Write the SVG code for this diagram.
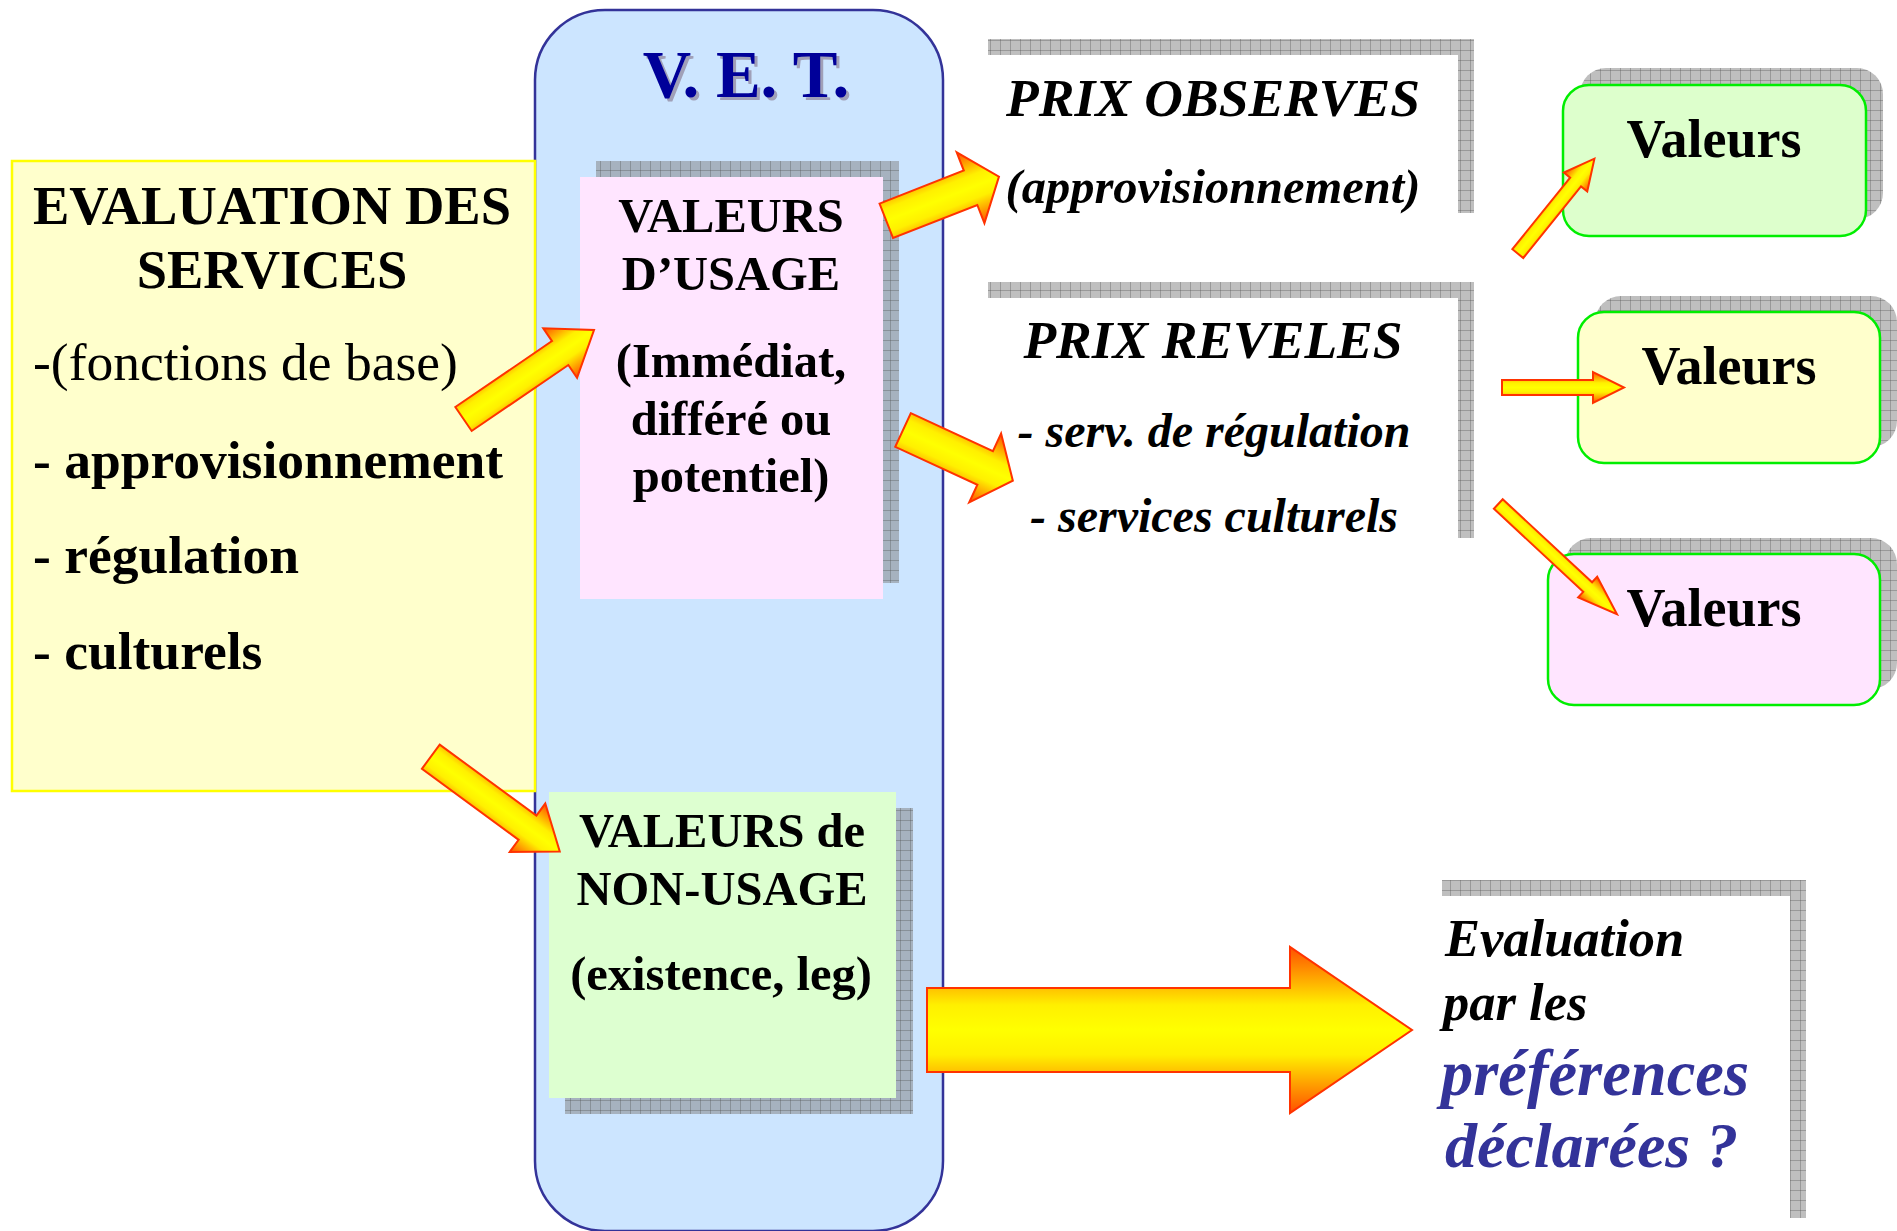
<svg xmlns="http://www.w3.org/2000/svg" width="1897" height="1231" viewBox="0 0 1897 1231">
<defs>
  <pattern id="grid" width="10" height="10" patternUnits="userSpaceOnUse">
    <rect width="10" height="10" fill="#808080" fill-opacity="0.5"/>
    <path d="M0 0.5H10M0.5 0V10" stroke="#505050" stroke-opacity="0.35" stroke-width="1" fill="none"/>
  </pattern>
  <linearGradient id="arrowGrad" x1="0" y1="0" x2="0" y2="1">
    <stop offset="0" stop-color="#FF5000"/>
    <stop offset="0.35" stop-color="#FFF000"/>
    <stop offset="0.5" stop-color="#FFFF00"/>
    <stop offset="0.65" stop-color="#FFF000"/>
    <stop offset="1" stop-color="#FF5000"/>
  </linearGradient>
  <style>
    .t{font-family:"Liberation Serif","Times New Roman",serif;fill:#000}
    .b{font-weight:bold}
    .i{font-style:italic}
    .m{text-anchor:middle}
    .shadow{fill:url(#grid)}
    .arrow{fill:url(#arrowGrad);stroke:#FF3300;stroke-width:2;stroke-linejoin:miter}
    .vbox{stroke:#00EE00;stroke-width:2.5}
  </style>
</defs>
<rect width="1897" height="1231" fill="#FFFFFF"/>

<g id="vet">
  <rect x="535" y="10" width="408" height="1221" rx="70" ry="70" fill="#CCE5FF" stroke="#333399" stroke-width="2.5"/>
  <text x="749" y="100" class="t b m" font-size="67" style="fill:#A0A0B8">V. E. T.</text>
  <text x="746" y="97" class="t b m" font-size="67" style="fill:#000099">V. E. T.</text>
</g>

<g id="evaluation-services">
  <rect x="12" y="161" width="523" height="630" fill="#FFFFCC" stroke="#FFFF00" stroke-width="2.5"/>
  <text x="272" y="224" class="t b m" font-size="54.5">EVALUATION DES</text>
  <text x="272" y="288" class="t b m" font-size="54.5">SERVICES</text>
  <text x="33" y="380" class="t" font-size="53.5">-(fonctions de base)</text>
  <text x="33" y="478" class="t b" font-size="53.5">- approvisionnement</text>
  <text x="33" y="573" class="t b" font-size="53.5">- régulation</text>
  <text x="33" y="669" class="t b" font-size="53.5">- culturels</text>
</g>

<g id="valeurs-usage">
  <rect x="596" y="161" width="303" height="422" class="shadow"/>
  <rect x="580" y="177" width="303" height="422" fill="#FFE5FF"/>
  <text x="731" y="232" class="t b m" font-size="48.5">VALEURS</text>
  <text x="731" y="290" class="t b m" font-size="48.5">D’USAGE</text>
  <text x="731" y="377" class="t b m" font-size="48.5">(Immédiat,</text>
  <text x="731" y="435" class="t b m" font-size="48.5">différé ou</text>
  <text x="731" y="492" class="t b m" font-size="48.5">potentiel)</text>
</g>

<g id="valeurs-non-usage">
  <rect x="565" y="808" width="348" height="306" class="shadow"/>
  <rect x="549" y="792" width="347" height="306" fill="#DDFFD0"/>
  <text x="722" y="847" class="t b m" font-size="48.5">VALEURS de</text>
  <text x="722" y="905" class="t b m" font-size="48.5">NON-USAGE</text>
  <text x="721" y="990" class="t b m" font-size="48.5">(existence, leg)</text>
</g>

<g id="prix-observes">
  <rect x="988" y="39" width="486" height="174" class="shadow"/>
  <rect x="972" y="55" width="486" height="174" fill="#FFFFFF"/>
  <text x="1213" y="116" class="t b i m" font-size="53.5">PRIX OBSERVES</text>
  <text x="1213" y="203" class="t b i m" font-size="48.5">(approvisionnement)</text>
</g>

<g id="prix-reveles">
  <rect x="988" y="282" width="486" height="256" class="shadow"/>
  <rect x="972" y="298" width="486" height="256" fill="#FFFFFF"/>
  <text x="1213" y="358" class="t b i m" font-size="53.5">PRIX REVELES</text>
  <text x="1214" y="447" class="t b i m" font-size="48">- serv. de régulation</text>
  <text x="1214" y="532" class="t b i m" font-size="48">- services culturels</text>
</g>

<g id="valeurs-1">
  <rect x="1580" y="68" width="303" height="151" rx="26" ry="26" class="shadow"/>
  <rect x="1563" y="85" width="303" height="151" rx="26" ry="26" fill="#DDFFCC" class="vbox"/>
  <text x="1714" y="157" class="t b m" font-size="54">Valeurs</text>
</g>

<g id="valeurs-2">
  <rect x="1595" y="296" width="302" height="151" rx="26" ry="26" class="shadow"/>
  <rect x="1578" y="312" width="302" height="151" rx="26" ry="26" fill="#FFFFCC" class="vbox"/>
  <text x="1729" y="384" class="t b m" font-size="54">Valeurs</text>
</g>

<g id="valeurs-3">
  <rect x="1565" y="538" width="332" height="151" rx="26" ry="26" class="shadow"/>
  <rect x="1548" y="554" width="332" height="151" rx="26" ry="26" fill="#FFE5FF" class="vbox"/>
  <text x="1714" y="626" class="t b m" font-size="54">Valeurs</text>
</g>

<g id="evaluation-preferences">
  <rect x="1442" y="880" width="364" height="338" class="shadow"/>
  <rect x="1426" y="896" width="364" height="338" fill="#FFFFFF"/>
  <text x="1445" y="956" class="t b i" font-size="52.5">Evaluation</text>
  <text x="1443" y="1020" class="t b i" font-size="52.5">par les</text>
  <text x="1441" y="1095" class="t b i" font-size="64.5" style="fill:#333399">préférences</text>
  <text x="1445" y="1167" class="t b i" font-size="64" style="fill:#333399">déclarées ?</text>
</g>

<g id="connectors">
  <path class="arrow" transform="translate(463.5,419) rotate(-34.3)" d="M0,-14.5 L117,-14.5 L117,-30 L158,0 L117,30 L117,14.5 L0,14.5 Z"/>
  <path class="arrow" transform="translate(886.3,220.8) rotate(-21.4)" d="M0,-18.5 L90.5,-18.5 L90.5,-38 L121,0 L90.5,38 L90.5,18.5 L0,18.5 Z"/>
  <path class="arrow" transform="translate(903,430) rotate(24.8)" d="M0,-18.5 L90.5,-18.5 L90.5,-38 L121,0 L90.5,38 L90.5,18.5 L0,18.5 Z"/>
  <path class="arrow" transform="translate(430.8,756.7) rotate(36.3)" d="M0,-15 L120,-15 L120,-30 L160,0 L120,30 L120,15 L0,15 Z"/>
  <path class="arrow" transform="translate(1517.8,253.6) rotate(-51.1)" d="M0,-7 L92,-7 L92,-15 L122,0 L92,15 L92,7 L0,7 Z"/>
  <path class="arrow" transform="translate(1502,387.5)" d="M0,-7.5 L91,-7.5 L91,-15.5 L122,0 L91,15.5 L91,7.5 L0,7.5 Z"/>
  <path class="arrow" transform="translate(1498.3,504) rotate(42.9)" d="M0,-6.5 L122,-6.5 L122,-14 L162,0 L122,14 L122,6.5 L0,6.5 Z"/>
  <path class="arrow" transform="translate(927,1030)" d="M0,-42 L363,-42 L363,-83 L485,0 L363,83 L363,42 L0,42 Z"/>
</g>
</svg>
